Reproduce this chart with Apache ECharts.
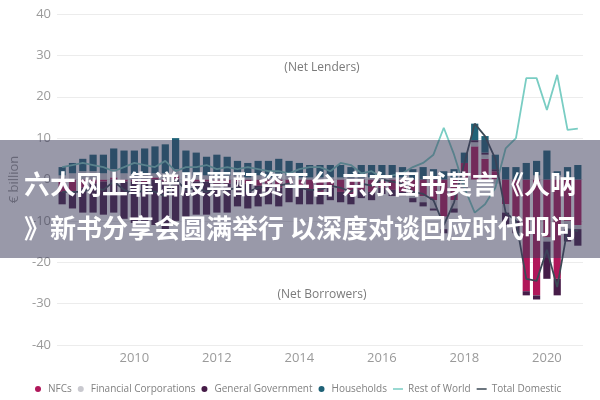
<!DOCTYPE html>
<html>
<head>
<meta charset="utf-8">
<script src="https://cdn.jsdelivr.net/npm/echarts@6/dist/echarts.min.js"></script>
<style>html,body{margin:0;padding:0;background:#fff}#c{width:600px;height:400px}</style>
</head>
<body>
<div id="c"></div>
<script>
const quarters = ['2008Q2','2008Q3','2008Q4','2009Q1','2009Q2','2009Q3','2009Q4','2010Q1','2010Q2','2010Q3','2010Q4','2011Q1','2011Q2','2011Q3','2011Q4','2012Q1','2012Q2','2012Q3','2012Q4','2013Q1','2013Q2','2013Q3','2013Q4','2014Q1','2014Q2','2014Q3','2014Q4','2015Q1','2015Q2','2015Q3','2015Q4','2016Q1','2016Q2','2016Q3','2016Q4','2017Q1','2017Q2','2017Q3','2017Q4','2018Q1','2018Q2','2018Q3','2018Q4','2019Q1','2019Q2','2019Q3','2019Q4','2020Q1','2020Q2','2020Q3','2020Q4'];
const yearLabels = ['2010','2012','2014','2016','2018','2020'];

const nfcs = [-3,-3,-2,-1,-0.5,0.5,-0.5,-0.5,-1,0.5, -0.5,1,-0.5,-0.5,-0.5,-1,-1,-0.5,-1,-1.5, -1,-2,-1.5,-2,-2.5,-3,-2,-3,-3.5,-2.5, -3,-2,-2.5,-3,-3.5,-4,-5,-9,-5,4, 8,5,2,-6,-9,-27,-28,-14,-24,-10,-11];
const financialCorps = [1,1.5,2,2,1.5,2,1.5,1,1.5,1, 1.5,1.5,1,1,1,1,1,1,0.5,1, 0.5,1,1,0.5,0.5,0.5,0.5,0.5,0.5,0.5, 0.5,0.5,0.5,0.5,-1,-1.5,-2,-3,-2,-2, 1,1,-1,-2,-1,0,1,-1,1,-2,-1];
const generalGov = [-3,-4,-6,-7,-8,-8,-9,-10,-9,-11, -12,-10,-9,-8,-8,-7,-7,-6,-6,-5, -5,-4.5,-4,-4,-3.5,-3,-3,-2.5,-2.5,-2, -2,-1.5,-1.5,-1,-1,-1,-0.5,-1,-1,-0.5, 0.5,0.5,0.5,-3,-3,-1,-1,-9,-4,-3,-4];
const households = [2,2.5,3,4,4.5,5,5.5,6,6,6.5, 7,7.5,6,5.5,4.5,5,4.5,3.5,3.5,3.5, 4,4,3.5,3.5,3,3,3,3,2.5,3, 3,3,3,2.5,2.5,3,2.5,2,2.5,2.5, 4,4,3.5,3,3,4,3.5,7,1,3,3.5];
const restOfWorld = [3,3.5,4,3.5,3,2,3,4,3.5,3, 4.5,2,3,3,3.5,2.5,3,2.5,3,2.5, 2,2,1.5,2.5,3,3,2,4,3.5,1.5, 2,0.5,1,1.5,3,4,6,12.5,6,-2, -8,-6,-2,7.5,10,24.5,24.5,16.8,25.3,12,12.3];
const totalDomestic = [-3,-3,-3,-2,-2.5,-0.5,-2.5,-3.5,-2.5,-3, -4,0,-2.5,-2,-3,-2,-2.5,-2,-3,-2, -1.5,-1.5,-1,-2,-2.5,-2.5,-1.5,-2,-3,-1, -1.5,0,-0.5,-1,-3,-3.5,-5,-11,-5.5,4, 13.5,10.5,5,-8,-10,-24,-24.5,-17,-26,-12,-12.5];

const FONT = 'Open Sans';
const LINE_ICON = 'path://M0,2.2H10V3.8H0Z M0,0H0.01V0.01H0Z M9.99,5.99H10V6H9.99Z';
const chart = echarts.init(document.getElementById('c'));
function barSeries(name, data, color) {
  return { name, type: 'bar', stack: 'sectors', data, barCategoryGap: '30%',
    itemStyle: { color }, emphasis: { disabled: true } };
}
chart.setOption({
  animation: false,
  textStyle: { fontFamily: FONT },
  grid: { left: 55, right: 17, top: 14, bottom: 55, containLabel: false },
  legend: {
    left: 30, top: 379, itemWidth: 10, itemHeight: 6, itemGap: 6,
    textStyle: { fontSize: 10, color: '#808080', fontFamily: FONT },
    data: [
      { name: 'NFCs', icon: 'circle' },
      { name: 'Financial Corporations', icon: 'circle' },
      { name: 'General Government', icon: 'circle' },
      { name: 'Households', icon: 'circle' },
      { name: 'Rest of World', icon: LINE_ICON },
      { name: 'Total Domestic', icon: LINE_ICON }
    ]
  },
  xAxis: {
    type: 'category', data: quarters,
    axisLine: { show: false }, axisTick: { show: false },
    axisLabel: {
      interval: 0, fontSize: 13, color: '#9a9a9a', margin: 7,
      formatter: v => { const y = v.slice(0, 4); return (v.endsWith('Q1') && yearLabels.includes(y)) ? y : ''; }
    }
  },
  yAxis: {
    type: 'value', min: -40, max: 40, interval: 10,
    name: '€ billion', nameLocation: 'middle', nameGap: 36, nameRotate: 90,
    nameTextStyle: { fontSize: 13, color: '#9a9a9a' },
    axisLabel: { fontSize: 13, color: '#9a9a9a', margin: 6 },
    splitLine: { lineStyle: { color: '#ececec' } }
  },
  series: [
    barSeries('NFCs', nfcs, '#b0175a'),
    barSeries('Financial Corporations', financialCorps, '#c9c9cf'),
    barSeries('General Government', generalGov, '#461c48'),
    barSeries('Households', households, '#1f6277'),
    { name: 'Rest of World', type: 'line', data: restOfWorld, symbol: 'none',
      lineStyle: { color: '#79cdc3', width: 1.8 }, itemStyle: { color: '#79cdc3' }, z: 5 },
    { name: 'Total Domestic', type: 'line', data: totalDomestic, symbol: 'none',
      lineStyle: { color: '#3c4a56', width: 1.8 }, itemStyle: { color: '#3c4a56' }, z: 5 }
  ],
  graphic: [
    { type: 'text', x: 322, y: 68, style: { text: '(Net Lenders)', fontSize: 12, fill: '#7a7a7a', fontFamily: FONT, align: 'center', verticalAlign: 'middle' }, z: 10 },
    { type: 'text', x: 322, y: 295, style: { text: '(Net Borrowers)', fontSize: 12, fill: '#7a7a7a', fontFamily: FONT, align: 'center', verticalAlign: 'middle' }, z: 10 },
    { type: 'rect', left: 0, top: 140, shape: { width: 600, height: 118 }, style: { fill: 'rgba(60,60,90,0.52)' }, z: 100 },
    { type: 'text', x: 300, y: 184, style: { text: '六大网上靠谱股票配资平台 京东图书莫言《人呐', fontSize: 26, fontWeight: 'bold', fill: '#ffffff', fontFamily: 'Noto Sans CJK SC', align: 'center', verticalAlign: 'middle' }, z: 101 },
    { type: 'text', x: 300, y: 228, style: { text: '》新书分享会圆满举行 以深度对谈回应时代叩问', fontSize: 26, fontWeight: 'bold', fill: '#ffffff', fontFamily: 'Noto Sans CJK SC', align: 'center', verticalAlign: 'middle' }, z: 101 }
  ]
});
</script>
</body>
</html>
